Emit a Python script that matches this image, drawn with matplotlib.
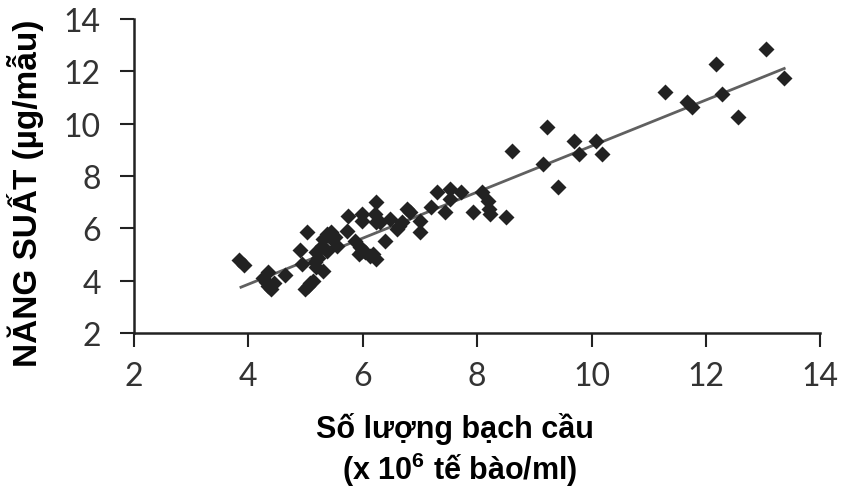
import numpy as np
import matplotlib.pyplot as plt

# --- data ---
bach_cau = [3.84, 3.92, 4.26, 4.35, 4.30, 4.40, 4.35, 4.45, 4.64,
            4.91, 4.93, 5.02, 4.99, 5.05, 5.13, 5.08, 5.16, 5.19, 5.19, 5.22,
            5.28, 5.31, 5.31, 5.37, 5.37, 5.46, 5.41, 5.45, 5.51, 5.55,
            5.72, 5.74, 5.86, 5.95, 5.93, 5.98, 5.98, 5.98, 6.04, 6.13, 6.24, 6.18,
            6.21, 6.23, 6.24, 6.30, 6.39, 6.48, 6.59, 6.68, 6.63, 6.77, 6.83, 7.00, 7.00,
            7.20, 7.29, 7.43, 7.53, 7.53, 7.72, 7.93, 8.09, 8.19, 8.21, 8.23, 8.50,
            8.61, 9.16, 9.22, 9.41, 9.69, 9.79, 10.07, 10.19,
            11.29, 11.67, 11.76, 12.17, 12.28, 12.56, 13.05, 13.37]
nang_suat = [4.80, 4.60, 4.09, 3.81, 3.95, 3.70, 4.32, 3.90, 4.22,
             5.17, 4.62, 5.87, 3.68, 3.81, 4.00, 3.90, 4.70, 4.51, 5.08, 4.85,
             5.34, 4.38, 5.59, 5.78, 5.15, 5.59, 5.72, 5.85, 5.67, 5.34,
             5.91, 6.48, 5.53, 5.27, 5.02, 6.55, 6.29, 5.15, 5.09, 4.95, 4.83, 5.02,
             6.55, 7.00, 6.23, 6.23, 5.53, 6.36, 5.97, 6.23, 6.10, 6.74, 6.61, 6.29, 5.85,
             6.80, 7.38, 6.61, 7.50, 7.12, 7.38, 6.61, 7.38, 7.06, 6.74, 6.55, 6.42,
             8.97, 8.46, 9.86, 7.57, 9.35, 8.84, 9.35, 8.84,
             11.20, 10.82, 10.62, 12.28, 11.13, 10.24, 12.85, 11.73]

# duong hoi quy (hai dau mut)
fit_x = [3.87, 13.37]
fit_y = [3.75, 12.11]

ticks = [2, 4, 6, 8, 10, 12, 14]

plt.rcParams['mathtext.fontset'] = 'custom'
plt.rcParams['mathtext.bf'] = 'Liberation Sans:bold'
plt.rcParams['mathtext.rm'] = 'Liberation Sans'

fig = plt.figure(figsize=(8.43, 4.89), dpi=100)
ax = fig.add_axes([0.159, 0.317, 0.814, 0.642])

ax.plot(fit_x, fit_y, color='#606060', lw=2, zorder=2)
ax.plot(bach_cau, nang_suat, 'D', color='#222222', markersize=8, mec='none', zorder=3)

ax.set_xlim(2, 14)
ax.set_ylim(2, 14)
ax.set_xticks(ticks)
ax.set_yticks(ticks)
for s in ['top', 'right']:
    ax.spines[s].set_visible(False)
for s in ['left', 'bottom']:
    ax.spines[s].set_linewidth(1.8)
    ax.spines[s].set_color('#222222')
ax.tick_params(axis='both', direction='out', length=10, width=1.5, color='#222222')
ax.tick_params(axis='x', pad=10)
ax.tick_params(axis='y', pad=14)
for lab in ax.get_xticklabels() + ax.get_yticklabels():
    lab.set_family(['Lato', 'DejaVu Sans'])
    lab.set_fontweight('normal')
    lab.set_fontsize(23)
    lab.set_color('#333333')

fig.text(0.030, 0.605, 'NĂNG SUẤT (µg/mẫu)', rotation=90, ha='center', va='center',
         fontsize=24, fontweight='bold', family=['Liberation Sans', 'DejaVu Sans'])
fig.text(0.540, 0.123, 'Số lượng bạch cầu', ha='center', va='center',
         fontsize=22, fontweight='bold',
         family=['Liberation Sans Narrow', 'Liberation Sans', 'DejaVu Sans'])
fig.text(0.545, 0.040, '(x 10$^{\\mathbf{6}}$ tế bào/ml)', ha='center', va='center',
         fontsize=22, fontweight='bold',
         family=['Liberation Sans Narrow', 'Liberation Sans', 'DejaVu Sans'])

fig.savefig('out.png', dpi=100)
